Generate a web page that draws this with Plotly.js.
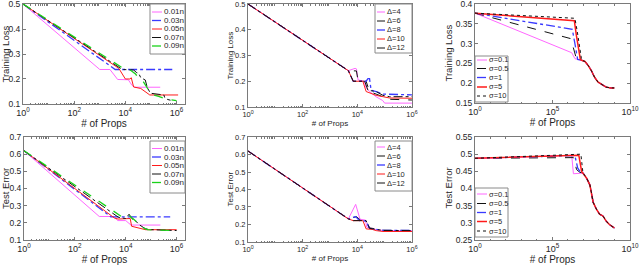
<!DOCTYPE html>
<html><head><meta charset="utf-8">
<script src="https://cdn.plot.ly/plotly-3.0.1.min.js"></script>
<style>html,body{margin:0;padding:0;background:#fff}#chart{width:640px;height:265px}</style>
</head><body><div id="chart"></div>
<script>
// ---------- DATA ----------
// Panel 1: training loss vs # of props, fraction sizes
const p1_names = ['0.01n','0.03n','0.05n','0.07n','0.09n'];
const p1_x_001 = [1, 1e3, 2.5e3, 5e3, 1.3e4, 1.8e4, 2.3e4, 2.3e5];
const p1_y_001 = [0.5, 0.238, 0.238, 0.198, 0.197, 0.175, 0.167, 0.167];
const p1_x_003 = [1, 4e3, 6.8e5];
const p1_y_003 = [0.5, 0.238, 0.238];
const p1_x_005 = [1, 5.5e3, 1e4, 1.5e4, 1.7e4, 2.1e4, 4e4, 6e4, 9e4, 1.15e6];
const p1_y_005 = [0.5, 0.243, 0.2, 0.2, 0.205, 0.168, 0.162, 0.15, 0.136, 0.136];
const p1_x_007 = [1, 7.6e3, 2.1e4, 2.8e4, 3.3e4, 4e4, 5e4, 6e4, 7.1e4, 9.5e4, 3.2e5, 3.5e5, 4.5e5, 5.8e5];
const p1_y_007 = [0.5, 0.238, 0.236, 0.225, 0.223, 0.205, 0.2, 0.196, 0.167, 0.143, 0.136, 0.123, 0.118, 0.115];
const p1_x_009 = [1, 8.9e3, 1.6e4, 2.5e4, 3.5e4, 5e4, 7.1e4, 1e5, 2e5, 4e5, 1e6];
const p1_y_009 = [0.5, 0.24, 0.235, 0.22, 0.2, 0.19, 0.165, 0.14, 0.13, 0.12, 0.113];

// Panel 4: test error vs # of props, fraction sizes
const p4_x_001 = [1, 9.1e2, 3.5e3, 4.8e3, 1e4, 1.35e4, 1.6e4, 2.3e5];
const p4_y_001 = [0.62, 0.237, 0.237, 0.213, 0.213, 0.199, 0.187, 0.187];
const p4_x_003 = [1, 2.6e3, 5.6e5];
const p4_y_003 = [0.62, 0.235, 0.235];
const p4_x_005 = [1, 3.6e3, 5e3, 1.26e4, 1.5e4, 1.7e4, 2.2e4, 3.3e4, 6e4, 1e6];
const p4_y_005 = [0.62, 0.228, 0.222, 0.222, 0.225, 0.18, 0.175, 0.168, 0.16, 0.16];
const p4_x_007 = [1, 5.2e3, 1e4, 1.35e4, 1.86e4, 2.5e4, 3.3e4, 4.2e4, 6e4, 1e5, 1e6];
const p4_y_007 = [0.62, 0.232, 0.225, 0.25, 0.22, 0.21, 0.19, 0.18, 0.165, 0.16, 0.155];
const p4_x_009 = [1, 7.1e3, 1.1e4, 1.4e4, 1.9e4, 2.5e4, 3.3e4, 5e4, 7e4, 1.2e5, 1e6];
const p4_y_009 = [0.62, 0.235, 0.23, 0.24, 0.225, 0.21, 0.19, 0.17, 0.16, 0.158, 0.155];

// Panel 2: training loss, Delta
const p2_names = ['\u0394=4','\u0394=6','\u0394=8','\u0394=10','\u0394=12'];
const p2_x_d4  = [1, 4.7e3, 8.3e3, 9.3e3, 1.07e4, 1.8e4, 2.1e4, 2.8e4, 4.8e4, 8.5e4, 1e5, 1e6];
const p2_y_d4  = [0.5, 0.241, 0.25, 0.248, 0.205, 0.2, 0.175, 0.16, 0.14, 0.125, 0.115, 0.115];
const p2_x_d6  = [1, 4.7e3, 9.3e3, 1.07e4, 2.1e4, 2.8e4, 4.9e4, 8.7e4, 1.5e5, 1e6];
const p2_y_d6  = [0.5, 0.241, 0.24, 0.2, 0.2, 0.16, 0.15, 0.14, 0.13, 0.127];
const p2_x_d8  = [1, 4.7e3, 7.1e3, 2.1e4, 2.45e4, 2.8e4, 3.2e4, 4.9e4, 8.7e4, 1e6];
const p2_y_d8  = [0.5, 0.241, 0.2, 0.2, 0.21, 0.21, 0.165, 0.16, 0.15, 0.147];
const p2_x_d10 = [1, 4.7e3, 7.1e3, 1.6e4, 2.1e4, 2.8e4, 4.9e4, 8.7e4, 1.5e5, 1e6];
const p2_y_d10 = [0.5, 0.241, 0.2, 0.2, 0.16, 0.155, 0.145, 0.14, 0.135, 0.134];
const p2_x_d12 = [1, 4.7e3, 7.1e3, 1.86e4, 2.45e4, 4.9e4, 8.7e4, 1.5e5, 1e6];
const p2_y_d12 = [0.5, 0.241, 0.2, 0.2, 0.165, 0.16, 0.145, 0.14, 0.14];

// Panel 5: test error, Delta
const p5_x_d4  = [1, 4.7e3, 8.7e3, 1.26e4, 2e4, 2.2e4, 3e4, 5e4, 1e5, 1e6];
const p5_y_d4  = [0.62, 0.232, 0.315, 0.23, 0.225, 0.185, 0.18, 0.17, 0.165, 0.165];
const p5_x_d6  = [1, 4.7e3, 9.3e3, 1.3e4, 2.1e4, 2.8e4, 4.9e4, 8.7e4, 1e6];
const p5_y_d6  = [0.62, 0.232, 0.245, 0.225, 0.222, 0.18, 0.175, 0.167, 0.166];
const p5_x_d8  = [1, 4.7e3, 8.7e3, 1.2e4, 2.1e4, 2.8e4, 4.9e4, 8.7e4, 1e6];
const p5_y_d8  = [0.62, 0.232, 0.245, 0.222, 0.22, 0.178, 0.172, 0.167, 0.166];
const p5_x_d10 = [1, 4.7e3, 7.1e3, 1.6e4, 2.1e4, 3.5e4, 4.9e4, 8.7e4, 1e6];
const p5_y_d10 = [0.62, 0.232, 0.222, 0.222, 0.175, 0.172, 0.165, 0.16, 0.16];
const p5_x_d12 = [1, 4.7e3, 7.1e3, 2.1e4, 2.8e4, 4.9e4, 8.7e4, 1e6];
const p5_y_d12 = [0.62, 0.232, 0.222, 0.222, 0.178, 0.172, 0.166, 0.165];

// Panel 3: training loss, sigma
const p3_names = ['\u03c3=0.1','\u03c3=0.5','\u03c3=1','\u03c3=5','\u03c3=10'];
const p3_tail_x = [7.6e6, 1.23e7, 2e7, 3.2e7, 5.2e7, 8.5e7, 1.8e8, 2.9e8, 6e8, 9.8e8];
const p3_tail_y = [0.258, 0.255, 0.245, 0.232, 0.215, 0.203, 0.195, 0.19, 0.188, 0.188];
const p3_x_s01 = [1, 1.74e6, 2.8e6, 4.7e6];
const p3_y_s01 = [0.377, 0.277, 0.262, 0.259];
const p3_x_s05 = [1, 1.38e6, 2.2e6, 3.6e6];
const p3_y_s05 = [0.377, 0.313, 0.29, 0.26];
const p3_x_s1  = [1, 1.9e6, 2.8e6, 4.2e6];
const p3_y_s1  = [0.377, 0.336, 0.3, 0.26];
const p3_x_s5  = [1, 2.57e6, 3.5e6, 6.3e6];
const p3_y_s5  = [0.377, 0.358, 0.32, 0.26];
const p3_x_s10 = [1, 2.8e6, 4e6, 7e6];
const p3_y_s10 = [0.377, 0.364, 0.33, 0.26];

// Panel 6: test error, sigma
const p6_tail_x = [9.5e6, 1.6e7, 2.6e7, 3.2e7, 4.2e7, 6.8e7, 1.1e8, 1.8e8, 2.9e8, 4.7e8, 7.6e8, 9.8e8];
const p6_tail_y = [0.445, 0.43, 0.41, 0.39, 0.36, 0.34, 0.325, 0.32, 0.305, 0.295, 0.288, 0.285];
const p6_x_s01 = [1, 1.74e6, 2.24e6, 5.9e6];
const p6_y_s01 = [0.487, 0.497, 0.443, 0.443];
const p6_x_s05 = [1, 2.24e6, 3.6e6, 5.9e6];
const p6_y_s05 = [0.488, 0.49, 0.455, 0.447];
const p6_x_s1  = [1, 2.8e6, 4.2e6, 6.5e6];
const p6_y_s1  = [0.488, 0.496, 0.46, 0.447];
const p6_x_s5  = [1, 5e6, 7.6e6];
const p6_y_s5  = [0.488, 0.497, 0.45];
const p6_x_s10 = [1, 6.8e6, 9e6];
const p6_y_s10 = [0.488, 0.5, 0.45];

// tick labels
const tick_vals_6  = [1, 1e2, 1e4, 1e6];
const tick_text_6  = ['10<sup>0</sup>','10<sup>2</sup>','10<sup>4</sup>','10<sup>6</sup>'];
const tick_vals_10 = [1, 1e5, 1e10];
const tick_text_10 = ['10<sup>0</sup>','10<sup>5</sup>','10<sup>10</sup>'];

// ---------- STYLES ----------
const W = 640, H = 265;
const MAG = '#ff66ff', BLU = '#3a3aff', RED = '#ff1a1a', BLK = '#111111', GRN = '#19d219';
const st1 = [ {c:MAG,d:'solid',w:1}, {c:BLU,d:'dashdot',w:1.3}, {c:RED,d:'solid',w:1}, {c:BLK,d:'dashdot',w:1}, {c:GRN,d:'dash',w:1.3} ];
const st2 = [ {c:MAG,d:'solid',w:1}, {c:BLK,d:'dash',w:1}, {c:BLU,d:'dashdot',w:1.3}, {c:RED,d:'solid',w:1}, {c:BLK,d:'dashdot',w:1} ];
const st3 = [ {c:MAG,d:'solid',w:1}, {c:BLK,d:'dash',w:1}, {c:BLU,d:'dashdot',w:1.3}, {c:RED,d:'solid',w:1.5}, {c:BLK,d:'dot',w:1} ];

const traces = [];
function add(ax, xs, ys, s) {
  traces.push({x: xs, y: ys, type: 'scatter', mode: 'lines', xaxis: 'x'+ax, yaxis: 'y'+ax,
    line: {color: s.c, dash: s.d, width: s.w}, showlegend: false, hoverinfo: 'skip'});
}
[[p1_x_001,p1_y_001],[p1_x_003,p1_y_003],[p1_x_005,p1_y_005],[p1_x_007,p1_y_007],[p1_x_009,p1_y_009]]
  .forEach((p,i)=>add('', p[0], p[1], st1[i]));
[[p2_x_d4,p2_y_d4],[p2_x_d6,p2_y_d6],[p2_x_d8,p2_y_d8],[p2_x_d10,p2_y_d10],[p2_x_d12,p2_y_d12]]
  .forEach((p,i)=>add('2', p[0], p[1], st2[i]));
[[p3_x_s01,p3_y_s01],[p3_x_s05,p3_y_s05],[p3_x_s1,p3_y_s1],[p3_x_s5,p3_y_s5],[p3_x_s10,p3_y_s10]]
  .forEach((p,i)=>add('3', p[0].concat(p3_tail_x), p[1].concat(p3_tail_y), st3[i]));
[[p4_x_001,p4_y_001],[p4_x_003,p4_y_003],[p4_x_005,p4_y_005],[p4_x_007,p4_y_007],[p4_x_009,p4_y_009]]
  .forEach((p,i)=>add('4', p[0], p[1], st1[i]));
[[p5_x_d4,p5_y_d4],[p5_x_d6,p5_y_d6],[p5_x_d8,p5_y_d8],[p5_x_d10,p5_y_d10],[p5_x_d12,p5_y_d12]]
  .forEach((p,i)=>add('5', p[0], p[1], st2[i]));
[[p6_x_s01,p6_y_s01],[p6_x_s05,p6_y_s05],[p6_x_s1,p6_y_s1],[p6_x_s5,p6_y_s5],[p6_x_s10,p6_y_s10]]
  .forEach((p,i)=>add('6', p[0].concat(p6_tail_x), p[1].concat(p6_tail_y), st3[i]));

// ---------- LAYOUT ----------
const FONT = 'Liberation Sans, Arial, sans-serif';
const TXT = '#262626', LINE = '#7a7a7a';
function xd(a,b){return [a/W, b/W];}
function yd(top,bot){return [1-bot/H, 1-top/H];}
// minor tick positions on log axes (2..9 per decade, or every decade)
function minorSub(maxDec){ const v=[]; for(let d=0; d<maxDec; d++) for(let k=2;k<=9;k++) v.push(k*Math.pow(10,d)); return v; }
function minorDec(maxDec){ const v=[]; for(let d=1; d<maxDec; d++) if(d!==5) v.push(Math.pow(10,d)); return v; }
function xax(dom, range, vals, text, fs, title, tfs, anchor, minorVals) {
  return {domain: dom, type: 'log', range: range, anchor: anchor, tickmode: 'array', tickvals: vals, ticktext: text,
    ticklabeloverflow: 'allow',
    ticks: 'inside', ticklen: 3, tickcolor: LINE, showline: true, linecolor: LINE, linewidth: 1, mirror: 'ticks',
    showgrid: false, zeroline: false, tickfont: {family: FONT, size: fs, color: TXT},
    minor: {tickmode: 'array', tickvals: minorVals, ticks: 'inside', ticklen: 1.5, tickcolor: LINE, showgrid: false},
    title: {text: title, font: {family: FONT, size: tfs, color: TXT}, standoff: 2}};
}
function yax(dom, range, dt, fs, anchor, fmt) {
  return {domain: dom, range: range, anchor: anchor, dtick: dt, tick0: 0, tickformat: fmt,
    ticklabeloverflow: 'allow',
    ticks: 'inside', ticklen: 3, tickcolor: LINE, showline: true, linecolor: LINE, linewidth: 1, mirror: 'ticks',
    showgrid: false, zeroline: false, tickfont: {family: FONT, size: fs, color: TXT}};
}

const layout = {
  width: W, height: H, margin: {l:0, r:0, t:0, b:0}, paper_bgcolor: '#fff', plot_bgcolor: '#fff',
  showlegend: false,
  xaxis:  xax(xd(23,185),  [0,6.33], tick_vals_6,  tick_text_6,  9, '# of Props', 10, 'y', minorSub(7)),
  yaxis:  yax(yd(4,104),   [0.0999,0.5001], 0.1, 8.5, 'x', '.1f'),
  xaxis2: xax(xd(248,412), [0,6.001], tick_vals_6, tick_text_6, 7.5, '# of Props', 8, 'y2', minorSub(6)),
  yaxis2: yax(yd(4,107),   [0.0999,0.5001], 0.1, 7.5, 'x2', '.1f'),
  xaxis3: xax(xd(475,630), [0,10.002], tick_vals_10, tick_text_10, 9, '# of Props', 10, 'y3', minorDec(10)),
  yaxis3: yax(yd(4,103),   [0.1499,0.4001], 0.05, 8.5, 'x3', '.2~f'),
  xaxis4: xax(xd(24,185),  [0,6.33], tick_vals_6,  tick_text_6,  9, '# of Props', 10, 'y4', minorSub(7)),
  yaxis4: yax(yd(137,240), [0.0999,0.7001], 0.1, 8.5, 'x4', '.1f'),
  xaxis5: xax(xd(248,412), [0,6.001], tick_vals_6, tick_text_6, 7.5, '# of Props', 8, 'y5', minorSub(6)),
  yaxis5: yax(yd(137,242), [0.0999,0.7001], 0.1, 7.5, 'x5', '.1f'),
  xaxis6: xax(xd(475,630), [0,10.002], tick_vals_10, tick_text_10, 9, '# of Props', 10, 'y6', minorDec(10)),
  yaxis6: yax(yd(137,240), [0.2499,0.5501], 0.05, 8.5, 'x6', '.2~f'),
  shapes: [], annotations: []
};

// y-axis titles (rotated), placed like the reference
function ytitle(text, cx, top, bot, fs) {
  layout.annotations.push({xref:'paper', yref:'paper', x: cx/W, y: 1-((top+bot)/2)/H, text: text, textangle: -90,
    showarrow:false, xanchor:'center', yanchor:'middle', font:{family:FONT, size:fs, color:TXT}});
}
ytitle('Training Loss', 5.5, 4, 104, 9.5);
ytitle('Training Loss', 230, 4, 107, 8);
ytitle('Training Loss', 448, 4, 103, 9.5);
ytitle('Test Error', 5.5, 137, 240, 9.5);
ytitle('Test Error', 230, 137, 242, 8);
ytitle('Test Error', 448, 137, 240, 9.5);

// manual legends (box + sample line + label)
function legend(names, styles, box, ys, sx0, sx1, tx, fs) {
  layout.shapes.push({type:'rect', xref:'paper', yref:'paper', x0: box[0]/W, x1: box[2]/W, y0: 1-box[3]/H, y1: 1-box[1]/H,
    line:{color:'#8a8a8a', width:1}, fillcolor:'#fff', layer:'above'});
  names.forEach((n,i)=>{
    const s = styles[i];
    layout.shapes.push({type:'line', xref:'paper', yref:'paper', x0: sx0/W, x1: sx1/W, y0: 1-ys[i]/H, y1: 1-ys[i]/H,
      line:{color:s.c, dash:s.d, width:s.w}, layer:'above'});
    layout.annotations.push({xref:'paper', yref:'paper', x: tx/W, y: 1-ys[i]/H, text: n, showarrow:false,
      xanchor:'left', yanchor:'middle', xshift:-2, font:{family:FONT, size:fs, color:TXT}});
  });
}
legend(p1_names, st1, [150,4,185,54],  [12,20.5,29,37.5,46],  152, 162, 164, 8);
legend(p2_names, st2, [375,4,412,53],  [12,21,30,39,48],      377, 385, 387, 7.5);
legend(p3_names, st3, [475,56,508,102],[60,68.5,77.5,87,96],  477, 487, 489, 7.5);
legend(p1_names, st1, [150,141,185,193],[148.5,157,165.5,174,182.5], 152, 162, 164, 8);
legend(p2_names, st2, [375,141,412,191],[147,156,165,174,183], 377, 385, 387, 7.5);
legend(p3_names, st3, [475,188,508,237],[194,203.5,212.5,221.5,231], 477, 487, 489, 7.5);

Plotly.newPlot('chart', traces, layout, {staticPlot: true, displayModeBar: false});
</script></body></html>
